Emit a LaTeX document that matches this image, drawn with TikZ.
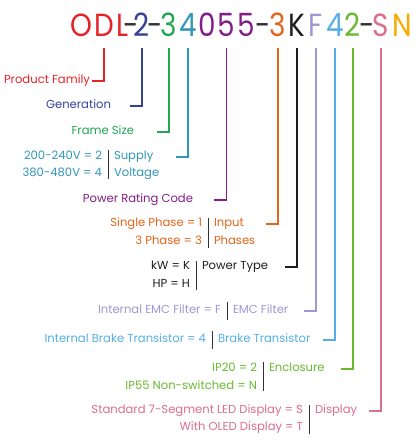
\documentclass[tikz,border=0pt]{standalone}
\usepackage{fontspec}
\setmainfont{Poppins}
\newfontfamily\titlefont{Poppins}[FakeStretch=0.87]
\usetikzlibrary{calc}
\definecolor{cRed}{RGB}{230,35,40}
\definecolor{cBlue}{RGB}{55,65,150}
\definecolor{cGreen}{RGB}{35,165,85}
\definecolor{cTeal}{RGB}{50,150,185}
\definecolor{cPurple}{RGB}{130,30,135}
\definecolor{cOrange}{RGB}{228,100,25}
\definecolor{cBlack}{RGB}{30,30,30}
\definecolor{cLav}{RGB}{160,150,210}
\definecolor{cLBlue}{RGB}{85,175,230}
\definecolor{cLGreen}{RGB}{105,185,50}
\definecolor{cPink}{RGB}{218,110,140}
\definecolor{cGold}{RGB}{252,170,0}
\definecolor{cDash}{RGB}{50,50,50}
\begin{document}
\begin{tikzpicture}[x=1pt,y=-1pt,
  tl/.style={inner sep=0pt, outer sep=0pt, anchor=base, font=\titlefont\fontsize{32}{32}\selectfont},
  lab/.style={inner sep=0pt, outer sep=0pt, font=\fontsize{11.6}{13}\selectfont},
  le/.style={lab, anchor=mid east},
  lw/.style={lab, anchor=mid west},
  conn/.style={line width=1.7pt},
  sepbar/.style={draw=cDash, line width=0.9pt}]
\useasboundingbox (0,0) rectangle (419,440);
% title
\node[tl, text=cRed] (tO) at (81,36) {O};
\node[tl, text=cRed] (tD) at (104,36) {D};
\node[tl, text=cRed] (tL) at (122.5,36) {L};
\node[tl, text=cDash] (th1) at (131,36) {-};
\node[tl, text=cBlue] (t2) at (142,36) {2};
\node[tl, text=cDash] (th2) at (155,36) {-};
\node[tl, text=cGreen] (t3) at (169,36) {3};
\node[tl, text=cTeal] (t4) at (188,36) {4};
\node[tl, text=cPurple] (t0) at (207,36) {0};
\node[tl, text=cPurple] (t5a) at (226.5,36) {5};
\node[tl, text=cPurple] (t5b) at (246,36) {5};
\node[tl, text=cDash] (th3) at (263,36) {-};
\node[tl, text=cOrange] (t3b) at (278,36) {3};
\node[tl, text=cBlack] (tK) at (297,36) {K};
\node[tl, text=cLav] (tF) at (316,36) {F};
\node[tl, text=cLBlue] (t4b) at (335,36) {4};
\node[tl, text=cLGreen] (t2b) at (353,36) {2};
\node[tl, text=cDash] (th4) at (367,36) {-};
\node[tl, text=cPink] (tS) at (381,36) {S};
\node[tl, text=cGold] (tN) at (402,36) {N};
\coordinate (topY) at (0,48);

% labels
\node[le, text=cRed] (lPF) at (90,81) {Product Family};
\node[le, text=cBlue] (lGen) at (111,106) {Generation};
\node[le, text=cGreen] (lFS) at (134,132) {Frame Size};

\node[le, text=cTeal] (lSupA) at (102,157) {200-240V = 2};
\node[le, text=cTeal] (lSupB) at (102,174) {380-480V = 4};
\node[lw, text=cTeal] (lSupC) at (114,157) {Supply};
\node[lw, text=cTeal] (lSupD) at (114,174) {Voltage};
\coordinate (bSupT) at (108,150); \coordinate (bSupB) at (108,179);

\node[le, text=cPurple] (lPRC) at (193,200) {Power Rating Code};

\node[le, text=cOrange] (lInA) at (202,224) {Single Phase = 1};
\node[le, text=cOrange] (lInB) at (202,242) {3 Phase = 3};
\node[lw, text=cOrange] (lInC) at (214,224) {Input};
\node[lw, text=cOrange] (lInD) at (214,242) {Phases};
\coordinate (bInT) at (208,218); \coordinate (bInB) at (208,248);

\node[le, text=cBlack] (lPwA) at (190,267) {kW = K};
\node[le, text=cBlack] (lPwB) at (190,285) {HP = H};
\node[lw, text=cBlack] (lPwC) at (202,267) {Power Type};
\coordinate (bPwT) at (196,261); \coordinate (bPwB) at (196,290);

\node[le, text=cLav] (lEmA) at (221,311) {Internal EMC Filter = F};
\node[lw, text=cLav] (lEmC) at (233,311) {EMC Filter};
\coordinate (bEmT) at (227,302); \coordinate (bEmB) at (227,320);

\node[le, text=cLBlue] (lBrA) at (206,340) {Internal Brake Transistor = 4};
\node[lw, text=cLBlue] (lBrC) at (218,340) {Brake Transistor};
\coordinate (bBrT) at (212,331); \coordinate (bBrB) at (212,349);

\node[le, text=cLGreen] (lEnA) at (257,369) {IP20 = 2};
\node[le, text=cLGreen] (lEnB) at (257,387) {IP55 Non-switched = N};
\node[lw, text=cLGreen] (lEnC) at (269,369) {Enclosure};
\coordinate (bEnT) at (263,362); \coordinate (bEnB) at (263,391);

\node[le, text=cPink] (lDiA) at (303,411) {Standard 7-Segment LED Display = S};
\node[le, text=cPink] (lDiB) at (303,428) {With OLED Display = T};
\node[lw, text=cPink] (lDiC) at (315,411) {Display};
\coordinate (bDiT) at (309,405); \coordinate (bDiB) at (309,434);

% separator bars
\foreach \b in {Sup,In,Pw,Em,Br,En,Di} \draw[sepbar] (b\b T) -- (b\b B);

% connectors
\draw[conn, cRed] (tD |- topY) |- ($(tD |- lPF.mid)+(-12.5,0)$);
\draw[conn, cBlue] (t2 |- topY) |- ($(t2 |- lGen.mid)+(-12.5,0)$);
\draw[conn, cGreen] (t3 |- topY) |- ($(t3 |- lFS.mid)+(-12.5,0)$);
\draw[conn, cTeal] (t4 |- topY) |- ($(t4 |- lSupC.mid)+(-12.5,0)$);
\draw[conn, cPurple] (t5a |- topY) |- ($(t5a |- lPRC.mid)+(-12.5,0)$);
\draw[conn, cOrange] (t3b |- topY) |- ($(t3b |- lInC.mid)+(-12.5,0)$);
\draw[conn, cBlack] (tK |- topY) |- ($(tK |- lPwC.mid)+(-12.5,0)$);
\draw[conn, cLav] (tF |- topY) |- ($(tF |- lEmC.mid)+(-12.5,0)$);
\draw[conn, cLBlue] (t4b |- topY) |- ($(t4b |- lBrC.mid)+(-12.5,0)$);
\draw[conn, cLGreen] (t2b |- topY) |- ($(t2b |- lEnC.mid)+(-12.5,0)$);
\draw[conn, cPink] (tS |- topY) |- ($(tS |- lDiC.mid)+(-12.5,0)$);
\end{tikzpicture}
\end{document}
